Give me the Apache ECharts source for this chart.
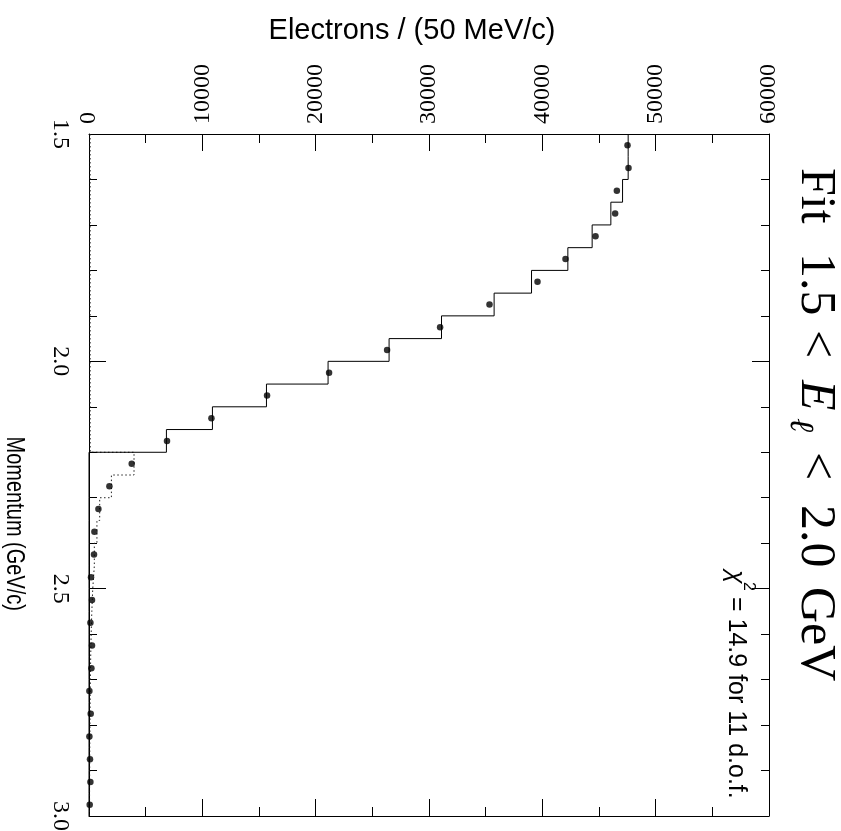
<!DOCTYPE html>
<html><head><meta charset="utf-8">
<script src="https://cdn.jsdelivr.net/npm/echarts@6/dist/echarts.min.js"></script>
<style>html,body{margin:0;padding:0;background:#fff}#c{width:841px;height:831px}</style>
</head><body><div id="c"></div><script>
// Momentum bin edges (GeV/c), 50 MeV bins
const binEdges = [1.50,1.55,1.60,1.65,1.70,1.75,1.80,1.85,1.90,1.95,2.00,2.05,2.10,2.15,2.20,2.25,2.30,2.35,2.40,2.45,2.50,2.55,2.60,2.65,2.70,2.75,2.80,2.85,2.90,2.95,3.00];
// Bin centers of the data points
const binCenters = [1.525,1.575,1.625,1.675,1.725,1.775,1.825,1.875,1.925,1.975,2.025,2.075,2.125,2.175,2.225,2.275,2.325,2.375,2.425,2.475,2.525,2.575,2.625,2.675,2.725,2.775,2.825,2.875,2.925,2.975];
// Measured electrons per 50 MeV/c
const dataCounts = [47516,47604,46575,46425,44693,42045,39574,35337,30980,26302,21183,15710,10803,6884,3769,1800,830,477,441,177,265,124,265,212,35,150,35,88,124,62];
// Fit: solid histogram component
const fitSolid = [47573,47573,47078,46046,44396,42251,39046,35746,31103,26478,21094,15658,10891,6831,0,0,0,0,0,0,0,0,0,0,0,0,0,0,0,0];
// Fit: dotted histogram component
const fitDotted = [100,100,100,100,100,100,100,100,100,100,100,100,100,110,3972,1977,944,700,470,330,250,190,150,120,100,85,70,60,50,45];
// Axis ticks
const momentumRange = [1.5, 3.0];
const momentumInterval = 0.5;
const electronRange = [0, 60000];
const electronInterval = 10000;

function stepPath(values){
  const pts = [];
  values.forEach((v,i)=>{ pts.push([v, binEdges[i]]); pts.push([v, binEdges[i+1]]); });
  return pts;
}

const chart = echarts.init(document.getElementById('c'), null, {renderer:'canvas'});
const black = '#000';
const serif = '"Liberation Serif", "DejaVu Serif", serif';
const sans = '"Liberation Sans", Arial, sans-serif';
function xAx(pos, showLabel){
  return {type:'value', position:pos, min:electronRange[0], max:electronRange[1], interval:electronInterval,
    axisLine:{show:true, onZero:false, lineStyle:{color:black, width:1}},
    axisTick:{show:true, inside:true, length:17, lineStyle:{color:black, width:1}},
    minorTick:{show:true, splitNumber:2, length:9, lineStyle:{color:black, width:1}},
    splitLine:{show:false}, minorSplitLine:{show:false},
    axisLabel:{show:showLabel, rotate:-90, margin:10, color:black, fontFamily:serif, fontSize:24,
      formatter:v=>String(v)}};
}
function yAx(pos, showLabel){
  return {type:'value', position:pos, inverse:true, min:momentumRange[0], max:momentumRange[1], interval:momentumInterval,
    axisLine:{show:true, onZero:false, lineStyle:{color:black, width:1}},
    axisTick:{show:true, inside:true, length:17, lineStyle:{color:black, width:1}},
    minorTick:{show:true, splitNumber:5, length:8, lineStyle:{color:black, width:1}},
    splitLine:{show:false}, minorSplitLine:{show:false},
    axisLabel:{show:showLabel, rotate:-90, margin:17, color:black, fontFamily:serif, fontSize:24,
      formatter:v=>v.toFixed(1)}};
}
const R = -Math.PI/2;
function txt(x,y,text,font,align,extra){
  return Object.assign({type:'text', x:x, y:y, rotation:R, z:100,
    style:{text:text, font:font, fill:black, align:align||'left', verticalAlign:'middle'}}, extra||{});
}
const option = {
  animation:false,
  backgroundColor:'#fff',
  grid:{left:89, right:72, top:134, bottom:15, containLabel:false, outerBoundsMode:'none'},
  xAxis:[xAx('top', true), xAx('bottom', false)],
  yAxis:[yAx('left', true), yAx('right', false)],
  series:[
    {type:'line', xAxisIndex:0, yAxisIndex:0, data:stepPath(fitDotted), showSymbol:false, symbol:'none',
      lineStyle:{color:'#222', width:1, type:[1.5,2.5]}, z:2},
    {type:'line', xAxisIndex:0, yAxisIndex:0, data:stepPath(fitSolid), showSymbol:false, symbol:'none',
      lineStyle:{color:black, width:1}, z:3},
    {type:'scatter', xAxisIndex:0, yAxisIndex:0, data:binCenters.map((m,i)=>[dataCounts[i], m]),
      symbol:'circle', symbolSize:6.5, itemStyle:{color:black}, z:4}
  ],
  graphic:[
    {type:'text', x:412, y:31, z:100, style:{text:'Electrons / (50 MeV/c)', font:'29px '+sans, fill:black, align:'center', verticalAlign:'middle'}},
    txt(14, 611, 'Momentum (GeV/c)', '25px '+sans, 'right', {scaleX:0.8}),
    // Title
    txt(815, 168, 'Fit', '50px '+serif),
    txt(815, 253, '1.5', '50px '+serif),
    txt(815, 330, '<', '50px '+serif),
    txt(815, 380, 'E', 'italic 50px '+serif),
    txt(800, 418, 'ℓ', 'italic 34px '+serif),
    txt(815, 452, '<', '50px '+serif),
    txt(815, 505, '2.0', '50px '+serif),
    txt(815, 587, 'GeV', '50px '+serif),
    // chi2
    txt(735, 570, 'χ', 'italic 25px '+sans),
    txt(748, 582, '2', '16px '+sans),
    txt(736, 597, '= 14.9 for 11 d.o.f.', '25px '+sans)
  ]
};
chart.setOption(option);
</script></body></html>
